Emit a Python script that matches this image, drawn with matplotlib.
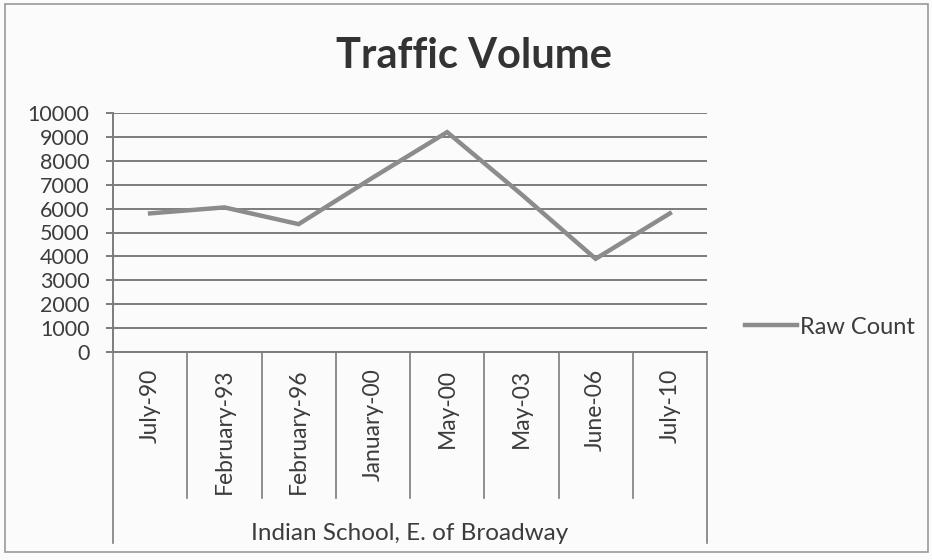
import matplotlib.pyplot as plt
from matplotlib.patches import Rectangle

plt.rcParams['font.family'] = ['Lato', 'DejaVu Sans']

# data
dates = ['July-90', 'February-93', 'February-96', 'January-00',
         'May-00', 'May-03', 'June-06', 'July-10']
raw_count = [5800, 6050, 5350, 7300, 9200, 6600, 3900, 5800]
yticks = list(range(0, 10001, 1000))
group_label = 'Indian School, E. of Broadway'
title = 'Traffic Volume'
series_name = 'Raw Count'

text_col = '#3c3c3c'
grid_col = '#7c7c7c'
line_col = '#8c8c8c'

fig = plt.figure(figsize=(9.32, 5.6), dpi=100)
fig.patch.set_facecolor('#fbfbfb')
ax = fig.add_axes([113 / 932, 1 - 352 / 560, 594 / 932, 239 / 560])
ax.set_facecolor('none')

x = list(range(len(dates)))
line, = ax.plot(x, raw_count, color=line_col, lw=3.2, solid_joinstyle='miter',
                label=series_name)

ax.set_xlim(-0.5, len(dates) - 0.5)
ax.set_ylim(0, 10000)
ax.set_yticks(yticks)
ax.set_yticklabels([str(v) for v in yticks], fontsize=15.5, color=text_col)
ax.yaxis.grid(True, color=grid_col, lw=1.4)
ax.set_axisbelow(True)
ax.tick_params(axis='y', direction='out', length=5, width=1.4, color=grid_col, pad=12)

for s in ['top', 'right']:
    ax.spines[s].set_visible(False)
ax.spines['left'].set_color(grid_col)
ax.spines['left'].set_linewidth(1.4)
ax.spines['bottom'].set_color(grid_col)
ax.spines['bottom'].set_linewidth(1.4)

# category labels, rotated like the excel multi-level axis
ax.set_xticks(x)
ax.set_xticklabels(dates, rotation=90, va='top', ha='center', fontsize=16.5, color=text_col)
ax.tick_params(axis='x', length=0, pad=12)

# separators between categories and the group label
tr = ax.get_xaxis_transform()
for i in range(len(dates) + 1):
    b = i - 0.5
    low = -0.80 if i in (0, len(dates)) else -0.61
    ax.plot([b, b], [0, low], color=grid_col, lw=1.2, transform=tr, clip_on=False)
ax.text((len(dates) - 1) / 2, -0.76, group_label, transform=tr, ha='center', va='center',
        fontsize=17.5, color=text_col)

fig.text(474 / 932, 1 - 56 / 560, title, ha='center', va='center', fontsize=30,
         fontweight='bold', color='#333333')

fig.legend(handles=[line], loc='center left', bbox_to_anchor=(724 / 932, 1 - 327 / 560),
           frameon=False, fontsize=17, handlelength=2.2, handletextpad=0.1,
           labelcolor=text_col)

fig.patches.append(Rectangle((5 / 932, 1 - 552 / 560), 923 / 932, 548 / 560,
                             transform=fig.transFigure, fill=False, ec='#999999', lw=1.2))

fig.savefig('out.png', dpi=100, facecolor=fig.get_facecolor())
